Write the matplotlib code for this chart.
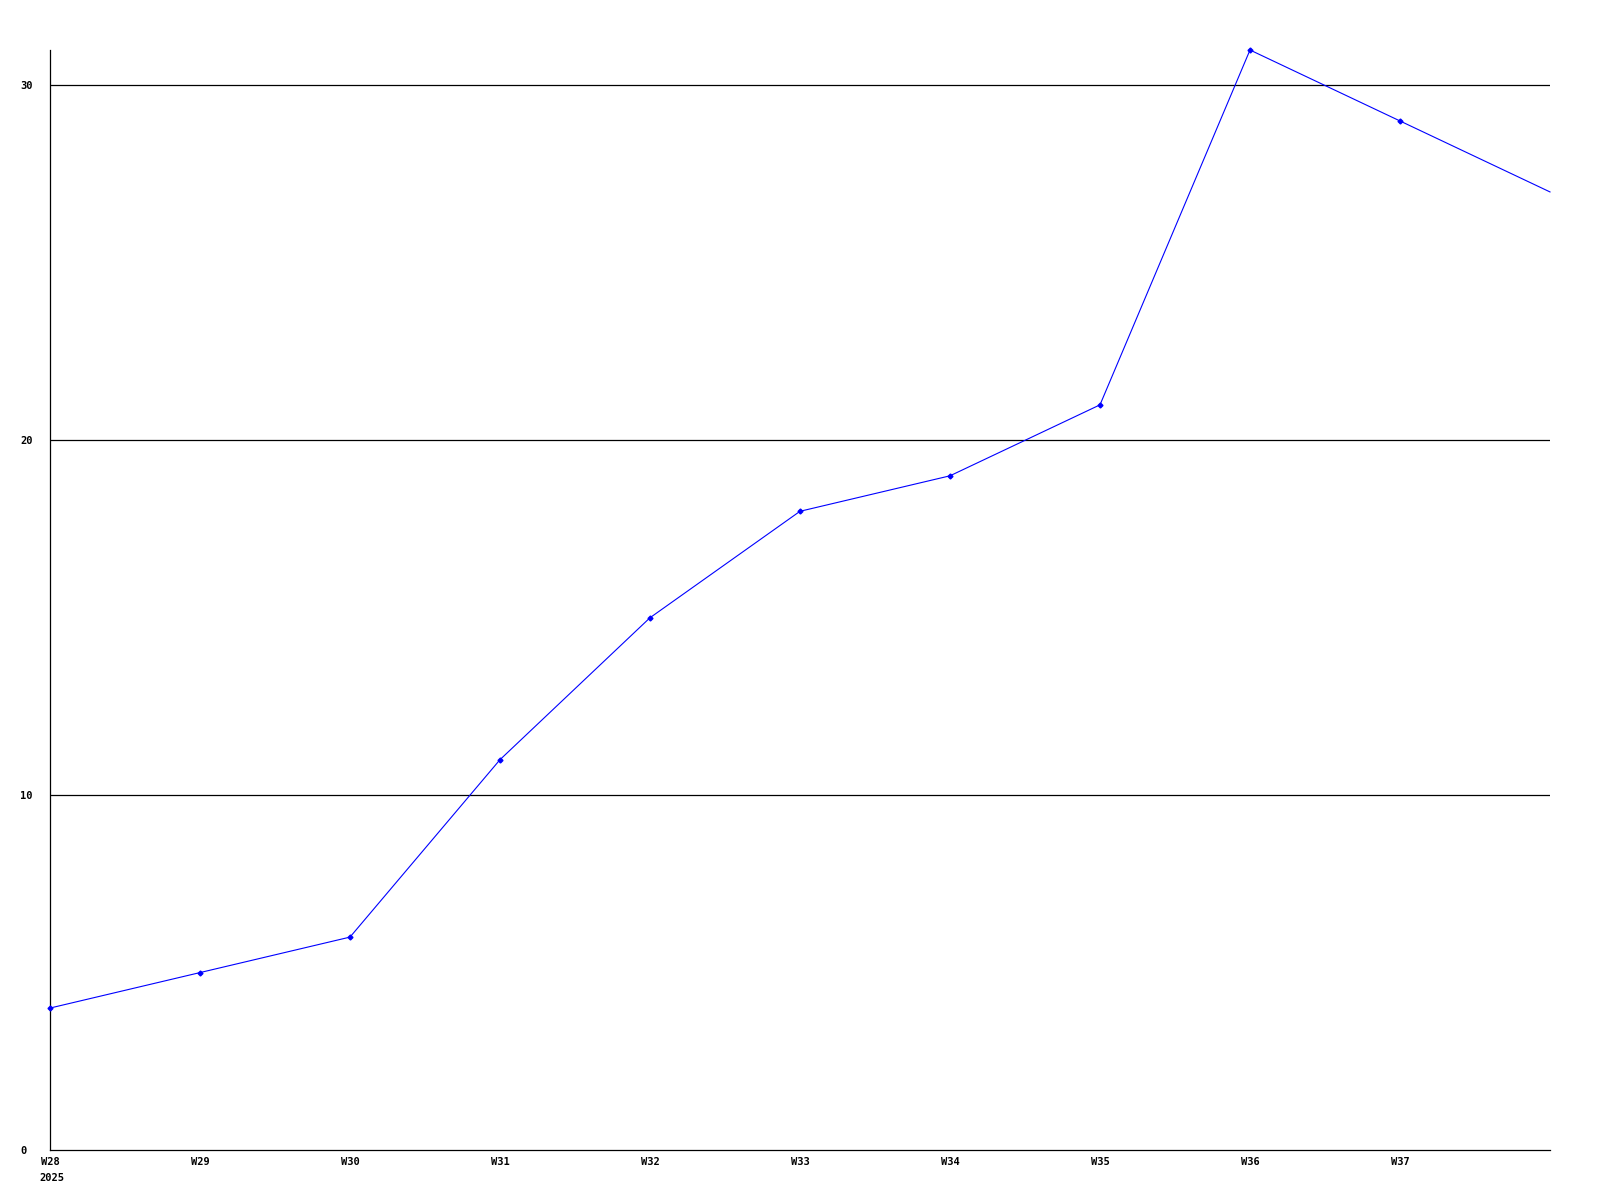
import matplotlib
matplotlib.use("Agg")
import matplotlib.pyplot as plt

weeks = ["W28", "W29", "W30", "W31", "W32", "W33", "W34", "W35", "W36", "W37", "W38"]
values = [4, 5, 6, 11, 15, 18, 19, 21, 31, 29, 27]
year_label = "2025"
y_ticks = [0, 10, 20, 30]
n_labeled = 10

fig = plt.figure(figsize=(16, 12), dpi=100)
ax = fig.add_axes([50/1600, 50/1200, 1500/1600, 1100/1200])

x = list(range(len(weeks)))
ax.plot(x, values, color="#0000ff", linewidth=0.8, marker="D", markersize=2.5,
        markerfacecolor="#0000ff", markeredgecolor="#0000ff",
        markevery=list(range(n_labeled)), clip_on=False, zorder=3)

ax.set_xlim(0, len(weeks) - 1)
ax.set_ylim(0, 31)

for v in y_ticks[1:]:
    ax.axhline(v, color="black", linewidth=0.9, zorder=1)

font = dict(family="DejaVu Sans Mono", weight="bold", size=7.5)
ax.set_yticks(y_ticks)
ax.set_yticklabels([str(v) for v in y_ticks], fontdict=font, ha="left")
ax.set_xticks(x[:n_labeled])
ax.set_xticklabels(weeks[:n_labeled], fontdict=font)
ax.tick_params(axis="both", length=0)
ax.tick_params(axis="y", pad=21.6)
ax.tick_params(axis="x", pad=5)
ax.annotate(year_label, xy=(0, 0), xycoords="data", xytext=(-7.5, -20),
            textcoords="offset points", ha="left", va="center", **font)

for s in ["top", "right"]:
    ax.spines[s].set_visible(False)
for s in ["left", "bottom"]:
    ax.spines[s].set_color("black")
    ax.spines[s].set_linewidth(0.9)

fig.savefig("out.png", dpi=100)
